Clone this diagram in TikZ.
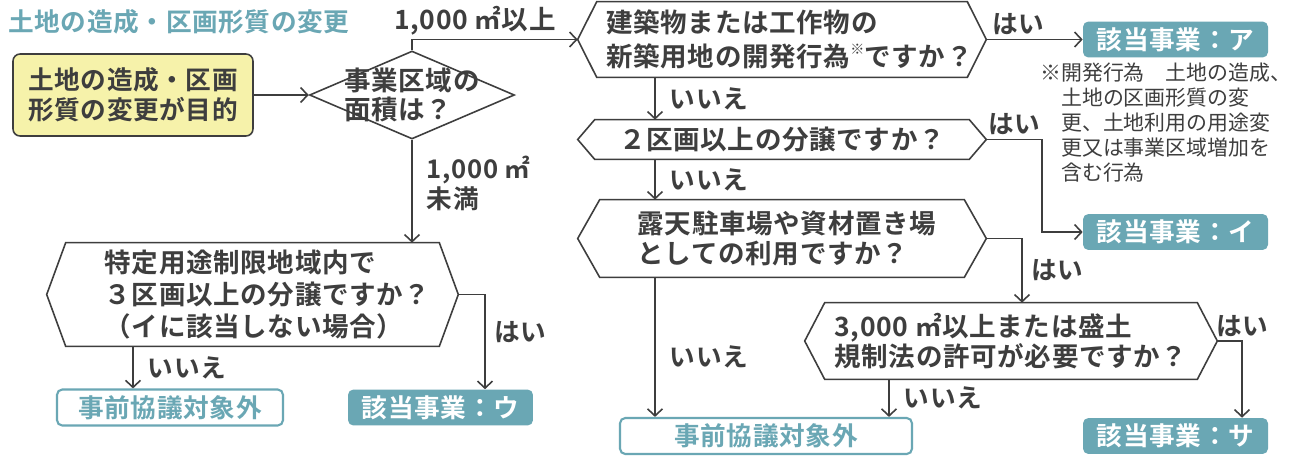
\documentclass[tikz,border=0pt]{standalone}
\usepackage{fontspec}
\setmainfont{Noto Sans CJK JP}[BoldFont={Noto Sans CJK JP Bold}, LetterSpace=2.5]
\newfontfamily\notefont{Noto Sans CJK JP}
\usetikzlibrary{shapes.geometric, arrows.meta, positioning, calc}
\definecolor{seablue}{RGB}{106,167,180}
\definecolor{lemon}{RGB}{246,242,170}
\definecolor{inkgray}{RGB}{62,62,62}

% six-sided frame round a question node
\newcommand\hexframe[2]{\draw[line] (#1.west) -- ($(#1.north west)+(#2,0)$) -- ($(#1.north east)+(-#2,0)$)
  -- (#1.east) -- ($(#1.south east)+(-#2,0)$) -- ($(#1.south west)+(#2,0)$) -- cycle;}

\begin{document}
\begin{tikzpicture}[x=0.02cm, y=-0.02cm,
  line/.style={draw=inkgray, line width=0.9pt},
  flow/.style={line, -{Straight Barb[length=4pt,width=8.5pt]}},
  qtext/.style={rectangle, inner sep=0pt, align=left, text=inkgray,
                font=\fontsize{15.1}{17}\selectfont\bfseries},
  ans/.style={text=inkgray, font=\fontsize{14.6}{17}\selectfont\bfseries, inner sep=2pt},
  hit/.style={rectangle, rounded corners=3pt, fill=seablue, text=white,
              minimum width=3.7cm, minimum height=0.7cm, font=\fontsize{14.6}{17}\selectfont\bfseries},
  miss/.style={rectangle, rounded corners=3pt, draw=seablue, line width=1.2pt, fill=white,
               text=seablue, minimum height=0.7cm, font=\fontsize{14.6}{17}\selectfont\bfseries},
]
  \fill[white] (0,0) rectangle (1294,461);
  \useasboundingbox (0,0) rectangle (1294,461);

  \node[anchor=west, inner sep=0pt, text=seablue, font=\fontsize{14.6}{17}\selectfont\bfseries] (title) at (8,22) {土地の造成・区画形質の変更};

  % start and area check
  \node[qtext, draw=inkgray, line width=0.9pt, fill=lemon, rounded corners=4pt, align=center,
        minimum width=4.8cm, minimum height=1.64cm, font=\fontsize{14.6}{17.2}\selectfont\bfseries]
        (start) at (133,95) {土地の造成・区画\\形質の変更が目的};
  \node[diamond, line, minimum width=4.1cm, minimum height=1.76cm, inner sep=0pt] (area) at (412,95) {};
  \node[qtext] (areatxt) at (area) {事業区域の\\面積は？};

  % questions
  \node[qtext, minimum width=8.16cm, minimum height=1.5cm, font=\fontsize{15.1}{19}\selectfont\bfseries]
        (q1) at (782,39.5) {\hspace*{0.3cm}建築物または工作物の\\\hspace*{0.3cm}新築用地の開発行為\raisebox{.45em}{\fontsize{8}{8}\selectfont ※}ですか？};
  \hexframe{q1}{19}
  \node[qtext, minimum width=8.16cm, minimum height=0.78cm] (q2) at (782,139.5) {２区画以上の分譲ですか？};
  \hexframe{q2}{17}
  \node[qtext, minimum width=8.16cm, minimum height=1.54cm] (q3) at (782,238.5) {\hspace*{0.2cm}露天駐車場や資材置き場\\\hspace*{0.2cm}としての利用ですか？};
  \hexframe{q3}{22}
  \node[qtext, minimum width=8.24cm, minimum height=1.52cm] (q4) at (1011,341) {3,000 ㎡以上または盛土\\規制法の許可が必要ですか？};
  \hexframe{q4}{20}
  \node[qtext, minimum width=8.22cm, minimum height=2.06cm, font=\fontsize{15.1}{18}\selectfont\bfseries]
        (q5) at (252.5,294.5) {\hspace*{0.6cm}特定用途制限地域内で\\\hspace*{0.6cm}３区画以上の分譲ですか？\\\hspace*{0.6cm}（イに該当しない場合）};
  \hexframe{q5}{19}

  % results
  \node[hit] (rA) at (1175.5,39.5) {該当事業：ア};
  \node[hit] (rI) at (1175.5,232) {該当事業：イ};
  \node[hit] (rSa) at (1175.5,436) {該当事業：サ};
  \node[hit] (rU) at (440.5,407.5) {該当事業：ウ};
  \node[miss, minimum width=4.52cm] (none1) at (170,407.5) {事前協議対象外};
  \node[miss, minimum width=5.84cm] (none2) at (766,436) {事前協議対象外};

  \node[anchor=north west, align=left, inner sep=0pt, text=inkgray, font=\notefont\fontsize{11.9}{14.2}\selectfont]
        (note) at (1040,63) {※開発行為　土地の造成、\\\hphantom{※}土地の区画形質の変\\\hphantom{※}更、土地利用の用途変\\\hphantom{※}更又は事業区域増加を\\\hphantom{※}含む行為};

  % line columns
  \coordinate (cA) at (655,0);
  \coordinate (cB) at (1042,0);
  \coordinate (cC) at (1022,0);
  \coordinate (cD) at (1242,0);
  \coordinate (cE) at (889,0);
  \coordinate (cF) at (485,0);
  \coordinate (cG) at (133,0);

  \draw[flow] (start) -- (area);
  \draw[flow] (area.north) |- node[ans, pos=0.69, above, font=\fontsize{15.1}{17}\selectfont\bfseries] {1,000 ㎡以上} (q1.west);
  \draw[flow] (area.south) -- node[ans, right=6pt, align=left, pos=0.42] {1,000 ㎡\\未満} (area.south |- q5.north);

  \draw[flow] (q1.south -| cA) -- node[ans, right=6pt] {いいえ} (q2.north -| cA);
  \draw[flow] (q2.south -| cA) -- node[ans, right=6pt] {いいえ} (q3.north -| cA);
  \draw[flow] (q3.south -| cA) -- node[ans, right=6pt, pos=0.57] {いいえ} (none2.north -| cA);
  \draw[flow] (q1.east) -- node[ans, above, pos=0.33] {はい} (q1.east -| rA.west);
  \draw[flow] (q2.east) -- node[ans, above] {はい} (q2.east -| cB) |- (rI.west);
  \draw[flow] (q3.east) -| node[ans, right=3pt, pos=0.75] {はい} (q4.north -| cC);
  \draw[flow] (q4.east) -| node[ans, above, pos=0.5] {はい} (rSa.north -| cD);
  \draw[flow] (q4.south -| cE) -- node[ans, right=6pt] {いいえ} (none2.north -| cE);
  \draw[flow] (q5.east) -| node[ans, right=3pt, pos=0.7] {はい} (rU.north -| cF);
  \draw[flow] (q5.south -| cG) -- node[ans, right=6pt] {いいえ} (none1.north -| cG);
\end{tikzpicture}
\end{document}
